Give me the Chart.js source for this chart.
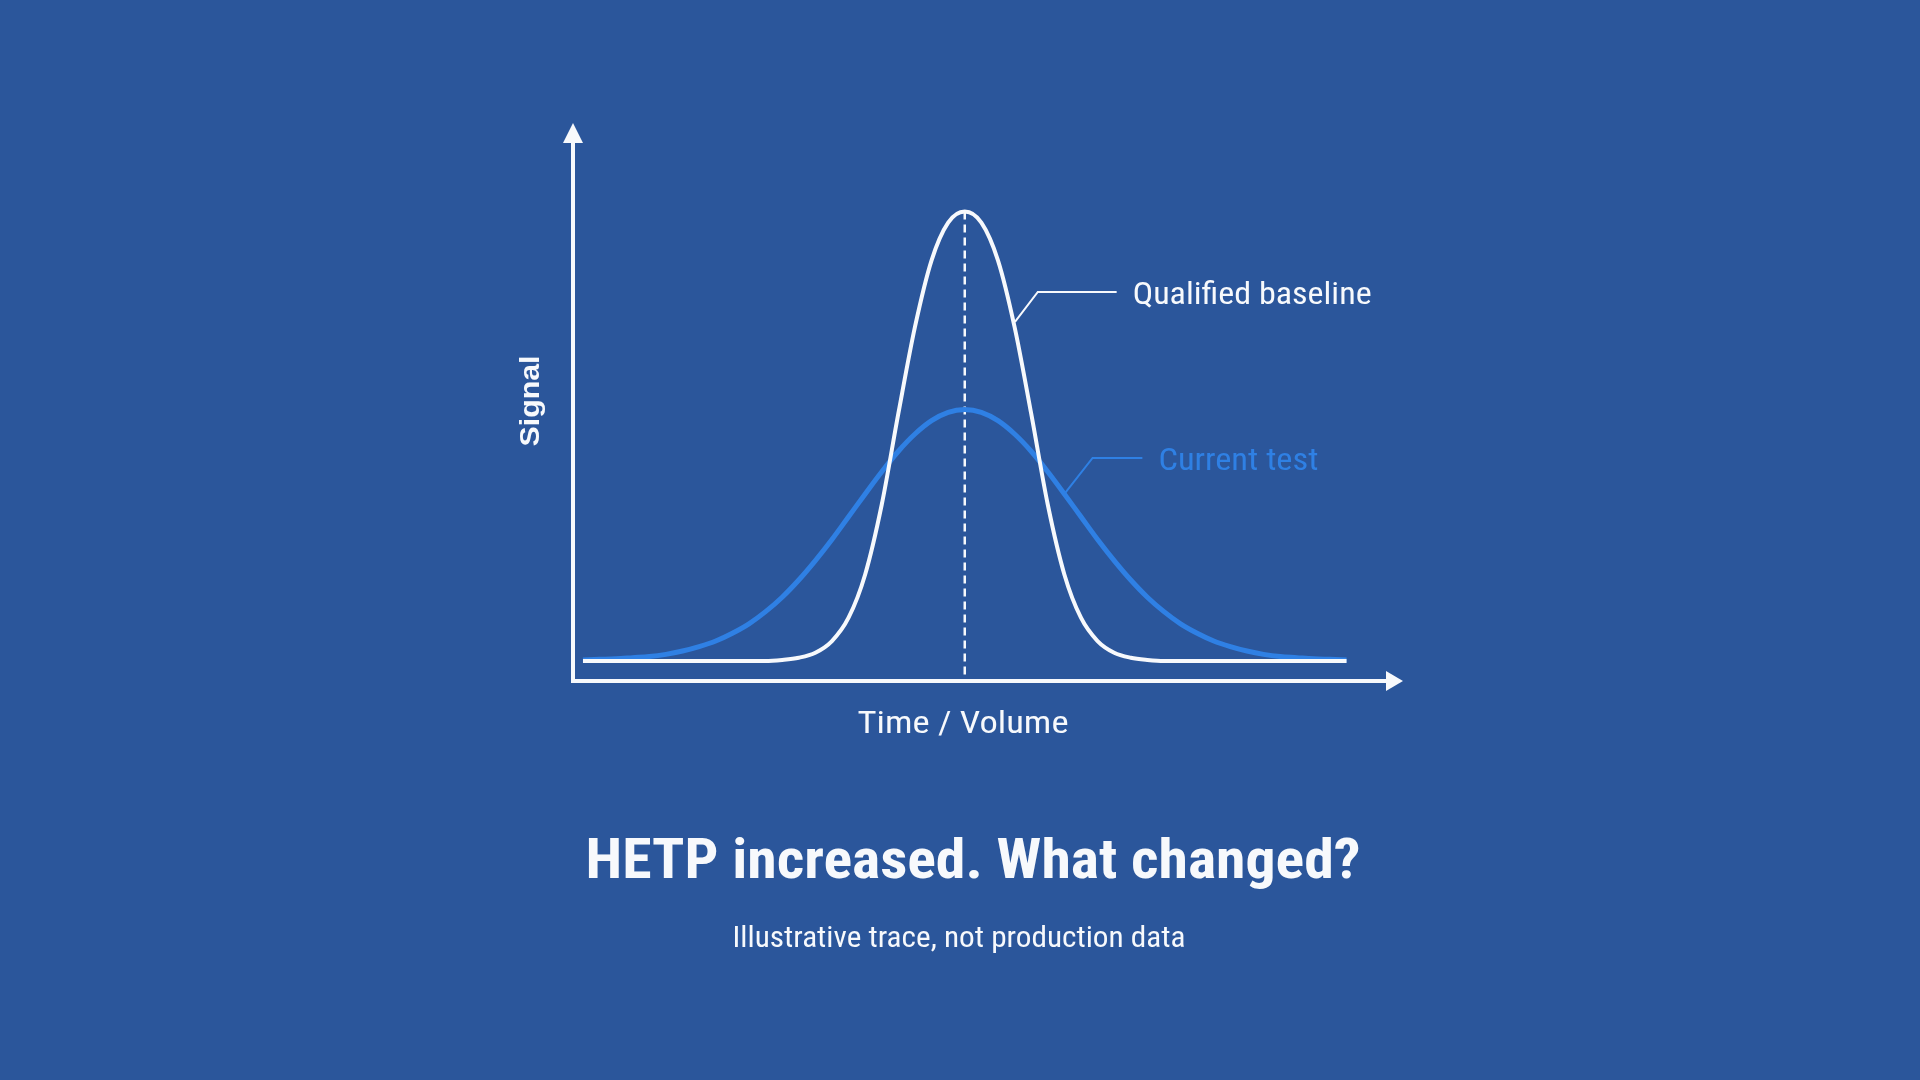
<!DOCTYPE html>
<html>
<head>
<meta charset="utf-8">
<script src="https://cdn.jsdelivr.net/npm/chart.js@4.4.1/dist/chart.umd.min.js"></script>
<style>
  html, body { margin: 0; padding: 0; background: #2b569b; }
  #wrap { width: 1920px; height: 1080px; }
</style>
</head>
<body>
<div id="wrap"><canvas id="peakChart" width="1920" height="1080"></canvas></div>
<script>
// elution volume (arbitrary units, peak apex at 0)
const xValues = [-46, -44, -42, -40, -38, -36, -34, -32, -30, -28, -26, -24, -22, -20, -18, -16, -14, -12, -10, -8, -6, -4, -2,
  0, 2, 4, 6, 8, 10, 12, 14, 16, 18, 20, 22, 24, 26, 28, 30, 32, 34, 36, 38, 40, 42, 44, 46];

// signal
const baselineSignal = [3.6, 3.6, 3.6, 3.6, 3.6, 3.6, 3.6, 3.6, 3.6, 3.6, 3.6, 3.6, 3.8, 4.2, 5.1, 7.2, 11.4, 19.2, 31.8, 48.2, 63.8, 75.8, 82.6,
  84.6, 82.6, 75.8, 63.8, 48.2, 31.8, 19.2, 11.4, 7.2, 5.1, 4.2, 3.8, 3.6, 3.6, 3.6, 3.6, 3.6, 3.6, 3.6, 3.6, 3.6, 3.6, 3.6, 3.6];
const currentSignal = [3.8, 3.9, 4.0, 4.2, 4.4, 4.8, 5.4, 6.2, 7.2, 8.6, 10.3, 12.5, 15.1, 18.2, 21.7, 25.5, 29.6, 33.7, 37.7, 41.4, 44.5, 46.9, 48.4,
  48.9, 48.4, 46.9, 44.5, 41.4, 37.7, 33.7, 29.6, 25.5, 21.7, 18.2, 15.1, 12.5, 10.3, 8.6, 7.2, 6.2, 5.4, 4.8, 4.4, 4.2, 4.0, 3.9, 3.8];

const seriesNames = ["Qualified baseline", "Current test"];
const apexX = 0;

const WHITE = "#f7f9fc";
const BLUE = "#2f80e4";
const CONDENSED = "'Roboto Condensed', 'Liberation Sans Narrow', Roboto, sans-serif";

// leader lines: [x, y] in data units (curve point, elbow, end)
const leaders = [
  { pts: [[6.05, 64.7], [8.8, 70.1], [18.3, 70.1]], color: WHITE, text: seriesNames[0], width: 239 },
  { pts: [[12.1, 33.9], [15.4, 40.2], [21.4, 40.2]], color: BLUE, text: seriesNames[1], width: 160 },
];

function toPoints(ys) {
  return xValues.map((x, i) => ({ x: x, y: ys[i] }));
}

// draws text squeezed/stretched to a given width
function fitText(ctx, text, x, y, w, font, color, align) {
  ctx.save();
  ctx.font = font;
  ctx.fillStyle = color;
  ctx.textBaseline = "alphabetic";
  ctx.textAlign = align;
  const m = ctx.measureText(text).width;
  ctx.translate(x, y);
  ctx.scale(w / m, 1);
  ctx.fillText(text, 0, 0);
  ctx.restore();
}

const decorPlugin = {
  id: "decor",
  beforeDatasetsDraw(chart) {
    const ctx = chart.ctx;
    const a = chart.chartArea;
    const xs = chart.scales.x, ys = chart.scales.y;
    const y0 = a.bottom;
    ctx.save();
    // axes
    ctx.strokeStyle = WHITE;
    ctx.fillStyle = WHITE;
    ctx.lineWidth = 4;
    ctx.beginPath();
    ctx.moveTo(a.left, y0 + 2);
    ctx.lineTo(a.left, a.top + 16);
    ctx.moveTo(a.left - 2, y0);
    ctx.lineTo(a.right - 14, y0);
    ctx.stroke();
    ctx.beginPath();
    ctx.moveTo(a.left, a.top - 3);
    ctx.lineTo(a.left - 10, a.top + 17);
    ctx.lineTo(a.left + 10, a.top + 17);
    ctx.closePath();
    ctx.fill();
    ctx.beginPath();
    ctx.moveTo(a.right, y0);
    ctx.lineTo(a.right - 17, y0 - 10);
    ctx.lineTo(a.right - 17, y0 + 10);
    ctx.closePath();
    ctx.fill();
    // apex marker
    const px = xs.getPixelForValue(apexX);
    const peak = Math.max(...baselineSignal);
    ctx.lineWidth = 2.5;
    ctx.setLineDash([8, 5]);
    ctx.beginPath();
    ctx.moveTo(px, ys.getPixelForValue(peak));
    ctx.lineTo(px, y0);
    ctx.stroke();
    ctx.restore();
  },
  afterDatasetsDraw(chart) {
    const ctx = chart.ctx;
    const xs = chart.scales.x, ys = chart.scales.y;
    ctx.save();
    leaders.forEach(l => {
      const p = l.pts.map(q => [xs.getPixelForValue(q[0]), ys.getPixelForValue(q[1])]);
      ctx.strokeStyle = l.color;
      ctx.lineWidth = 2;
      ctx.beginPath();
      ctx.moveTo(p[0][0], p[0][1]);
      ctx.lineTo(p[1][0], p[1][1]);
      ctx.lineTo(p[2][0], p[2][1]);
      ctx.stroke();
      fitText(ctx, l.text, p[2][0] + 16, p[2][1] + 12, l.width, "32px " + CONDENSED, l.color, "left");
    });
    ctx.restore();

    // axis titles
    ctx.save();
    ctx.translate(539, 401);
    ctx.rotate(-Math.PI / 2);
    fitText(ctx, "Signal", 0, 0, 91, "bold 28px 'Liberation Sans', Arial, sans-serif", WHITE, "center");
    ctx.restore();
    fitText(ctx, "Time / Volume", 963, 733, 211, "31px " + CONDENSED, WHITE, "center");

    // headline + note
    fitText(ctx, "HETP increased. What changed?", 973, 878, 775, "bold 56px " + CONDENSED, WHITE, "center");
    fitText(ctx, "Illustrative trace, not production data", 959, 947, 453, "29px " + CONDENSED, WHITE, "center");
  }
};

const chartData = {
  datasets: [
    {
      label: seriesNames[0],
      data: toPoints(baselineSignal),
      borderColor: WHITE,
      borderWidth: 4,
      pointRadius: 0,
      cubicInterpolationMode: "monotone",
      fill: false,
    },
    {
      label: seriesNames[1],
      data: toPoints(currentSignal),
      borderColor: BLUE,
      borderWidth: 5,
      pointRadius: 0,
      cubicInterpolationMode: "monotone",
      fill: false,
    },
  ],
};

const chartConfig = {
  type: "line",
  data: chartData,
  options: {
    responsive: false,
    animation: false,
    devicePixelRatio: 1,
    layout: { padding: { left: 573, right: 517, top: 126, bottom: 399 } },
    plugins: { legend: { display: false }, tooltip: { enabled: false } },
    scales: {
      x: { type: "linear", min: -47.2, max: 52.8, display: false },
      y: { min: 0, max: 100, display: false },
    },
  },
  plugins: [decorPlugin],
};

const peakChart = new Chart(document.getElementById("peakChart"), chartConfig);
</script>
</body>
</html>
